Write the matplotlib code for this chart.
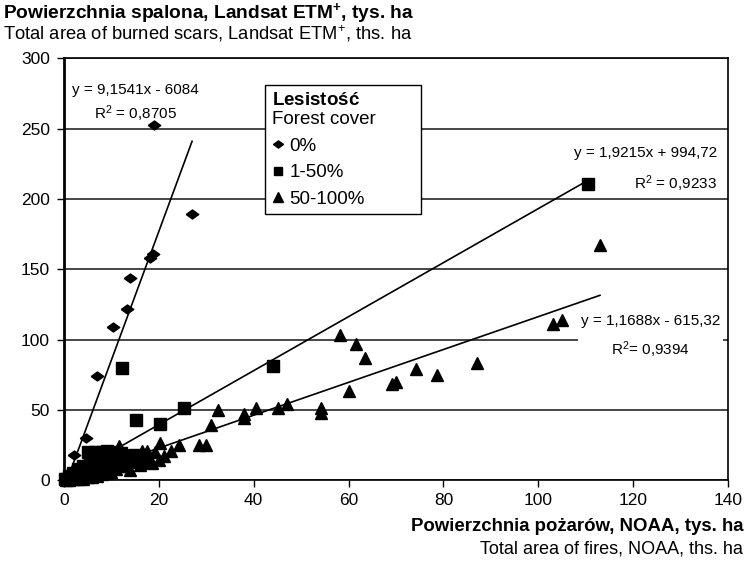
import matplotlib
matplotlib.use("Agg")
import matplotlib.pyplot as plt
import numpy as np
from matplotlib.lines import Line2D

plt.rcParams["font.family"] = ["Liberation Sans", "DejaVu Sans"]
plt.rcParams["mathtext.fontset"] = "custom"
plt.rcParams["mathtext.rm"] = "Liberation Sans"
plt.rcParams["mathtext.it"] = "Liberation Sans"
plt.rcParams["mathtext.bf"] = "Liberation Sans:bold"

# NOAA fire area (x) vs Landsat burned area (y), ths. ha, by forest cover class
x_0 = [19.0, 27.0, 18.8, 18.2, 14.0, 13.2, 10.3, 7.0, 4.6, 2.2, 1.0, 0.6, 0.3, 1.5, 0.8]
y_0 = [253, 189, 161, 158, 144, 122, 109, 74, 30, 18, 4, 2, 1, 6, 0.5]

x_1_50 = [110.4, 44.0, 25.2, 20.2, 15.1, 12.2, 5.0, 6.5, 8.0, 9.0, 10.0, 11.0, 12.0,
          7.0, 5.5, 4.0, 3.0, 2.0, 1.0, 0.5, 0.2, 1.5, 3.0, 6.0, 8.0, 9.0, 10.0,
          12.0, 13.0, 14.0, 15.0, 16.5, 4.5, 2.5, 7.0]
y_1_50 = [211, 81, 51, 40, 43, 80, 20, 20, 20, 21, 20, 18, 19,
          17, 14, 10, 8, 5, 3, 1, 0.5, 2, 3, 6, 8, 12, 9,
          10, 14, 16, 18, 14, 5, 1.5, 4]

x_50_100 = [113.0, 103.2, 104.9, 87.0, 58.2, 61.6, 63.4, 74.2, 78.7, 69.1, 69.9, 60.1,
            54.2, 54.2, 47.1, 45.2, 40.5, 38.0, 38.0, 32.4, 31.0, 30.0, 28.5, 24.2,
            22.5, 20.2, 19.2, 17.4, 16.4, 11.6, 12.0, 13.5, 14.5, 18.0, 15.0, 13.0,
            11.0, 10.0, 9.0, 8.0, 7.0, 6.0, 5.0, 4.0, 3.0, 2.0, 1.0, 12.0, 16.0,
            17.0, 18.5, 20.0, 21.0, 10.5, 9.0, 14.0, 7.5, 6.0, 3.5, 2.0, 1.0, 0.5]
y_50_100 = [167, 111, 114, 83, 103, 97, 87, 79, 75, 68, 70, 63,
            51, 48, 54, 51, 51, 47, 44, 50, 39, 25, 25, 25,
            21, 26, 20, 21, 21, 24, 21, 18, 17, 16, 13, 10,
            8, 6, 5, 4, 3, 2, 2, 1, 1, 0.5, 0.3, 14, 11,
            13, 12, 14, 17, 12, 9, 7, 6, 4.5, 2, 1.5, 1, 0.2]

# trend line coefficients (equations on chart are in ha; plotted in ths. ha)
trend_0 = (9.1541, -6.084)
trend_1_50 = (1.9215, 0.99472)
trend_50_100 = (1.1688, -0.61532)

eq_0 = "y = 9,1541x - 6084\nR$^2$ = 0,8705"
eq_1_50 = "y = 1,9215x + 994,72\nR$^2$ = 0,9233"
eq_50_100 = "y = 1,1688x - 615,32\nR$^2$= 0,9394"

diamond = [(-1, 0), (0, 0.72), (1, 0), (0, -0.72), (-1, 0)]

fig = plt.figure(figsize=(7.46, 5.65), dpi=100)
ax = fig.add_axes([0.0858, 0.1504, 0.8901, 0.7461])

ax.plot(x_0, y_0, linestyle="none", marker=diamond, ms=9, color="black",
        zorder=3, clip_on=False)
ax.plot(x_1_50, y_1_50, linestyle="none", marker="s", ms=8, color="black",
        zorder=3, clip_on=False)
ax.plot(x_50_100, y_50_100, linestyle="none", marker="^", ms=8.5, color="black",
        zorder=3, clip_on=False)

for xs, (a, b) in [(x_0, trend_0), (x_1_50, trend_1_50), (x_50_100, trend_50_100)]:
    xx = np.array([min(xs), max(xs)])
    ax.plot(xx, a * xx + b, color="black", lw=1.2, zorder=4)

ax.set_xlim(0, 140)
ax.set_ylim(0, 300)
ax.set_xticks(np.arange(0, 141, 20))
ax.set_yticks(np.arange(0, 301, 50))
ax.tick_params(labelsize=12.5, length=5, width=1, direction="out", colors="black")
ax.tick_params(axis="y", pad=5)
ax.tick_params(axis="x", pad=4)
ax.yaxis.grid(True, color="#383838", lw=1.3)
ax.set_axisbelow(True)
for side in ["top", "right", "bottom"]:
    ax.spines[side].set_linewidth(1.2)
ax.spines["left"].set_linewidth(2)

ax.text(1.6, 268, eq_0, fontsize=11, ha="left", va="center",
        multialignment="center", linespacing=1.45)
ax.text(137.6, 220.5, eq_1_50, fontsize=11, ha="right", va="center",
        multialignment="right", linespacing=1.85)
ax.text(109.0, 102, eq_50_100, fontsize=11, ha="left", va="center",
        multialignment="center", linespacing=1.75,
        bbox=dict(facecolor="white", edgecolor="none", pad=2), zorder=5)

handles = [
    Line2D([], [], linestyle="none", marker=diamond, ms=9, color="black"),
    Line2D([], [], linestyle="none", marker="s", ms=8, color="black"),
    Line2D([], [], linestyle="none", marker="^", ms=8.5, color="black"),
]
leg = ax.legend(handles, ["0%", "1-50%", "50-100%"],
                title="$\\mathbf{Lesisto\u015b\u0107}$\nForest cover",
                loc="upper left", bbox_to_anchor=(0.3027, 0.0, 0.235, 0.937),
                mode="expand", borderaxespad=0,
                fontsize=13.5, title_fontsize=13.5, alignment="left",
                handlelength=0.7, handletextpad=0.25, markerscale=0.8,
                labelspacing=0.5, borderpad=0.35, fancybox=False,
                framealpha=1, edgecolor="black")
leg.get_frame().set_linewidth(1.0)
leg.set_zorder(6)

fig.text(0.004, 0.977, "Powierzchnia spalona, Landsat ETM$^\\mathbf{+}$, tys. ha",
         fontsize=13.8, fontweight="bold", ha="left", va="center")
fig.text(0.004, 0.941, "Total area of burned scars, Landsat ETM$^{+}$, ths. ha",
         fontsize=13.2, ha="left", va="center")
fig.text(0.996, 0.069, "Powierzchnia po\u017car\u00f3w, NOAA, tys. ha",
         fontsize=13.4, fontweight="bold", ha="right", va="center")
fig.text(0.996, 0.028, "Total area of fires, NOAA, ths. ha",
         fontsize=13, ha="right", va="center")

fig.savefig("out.png", dpi=100)
